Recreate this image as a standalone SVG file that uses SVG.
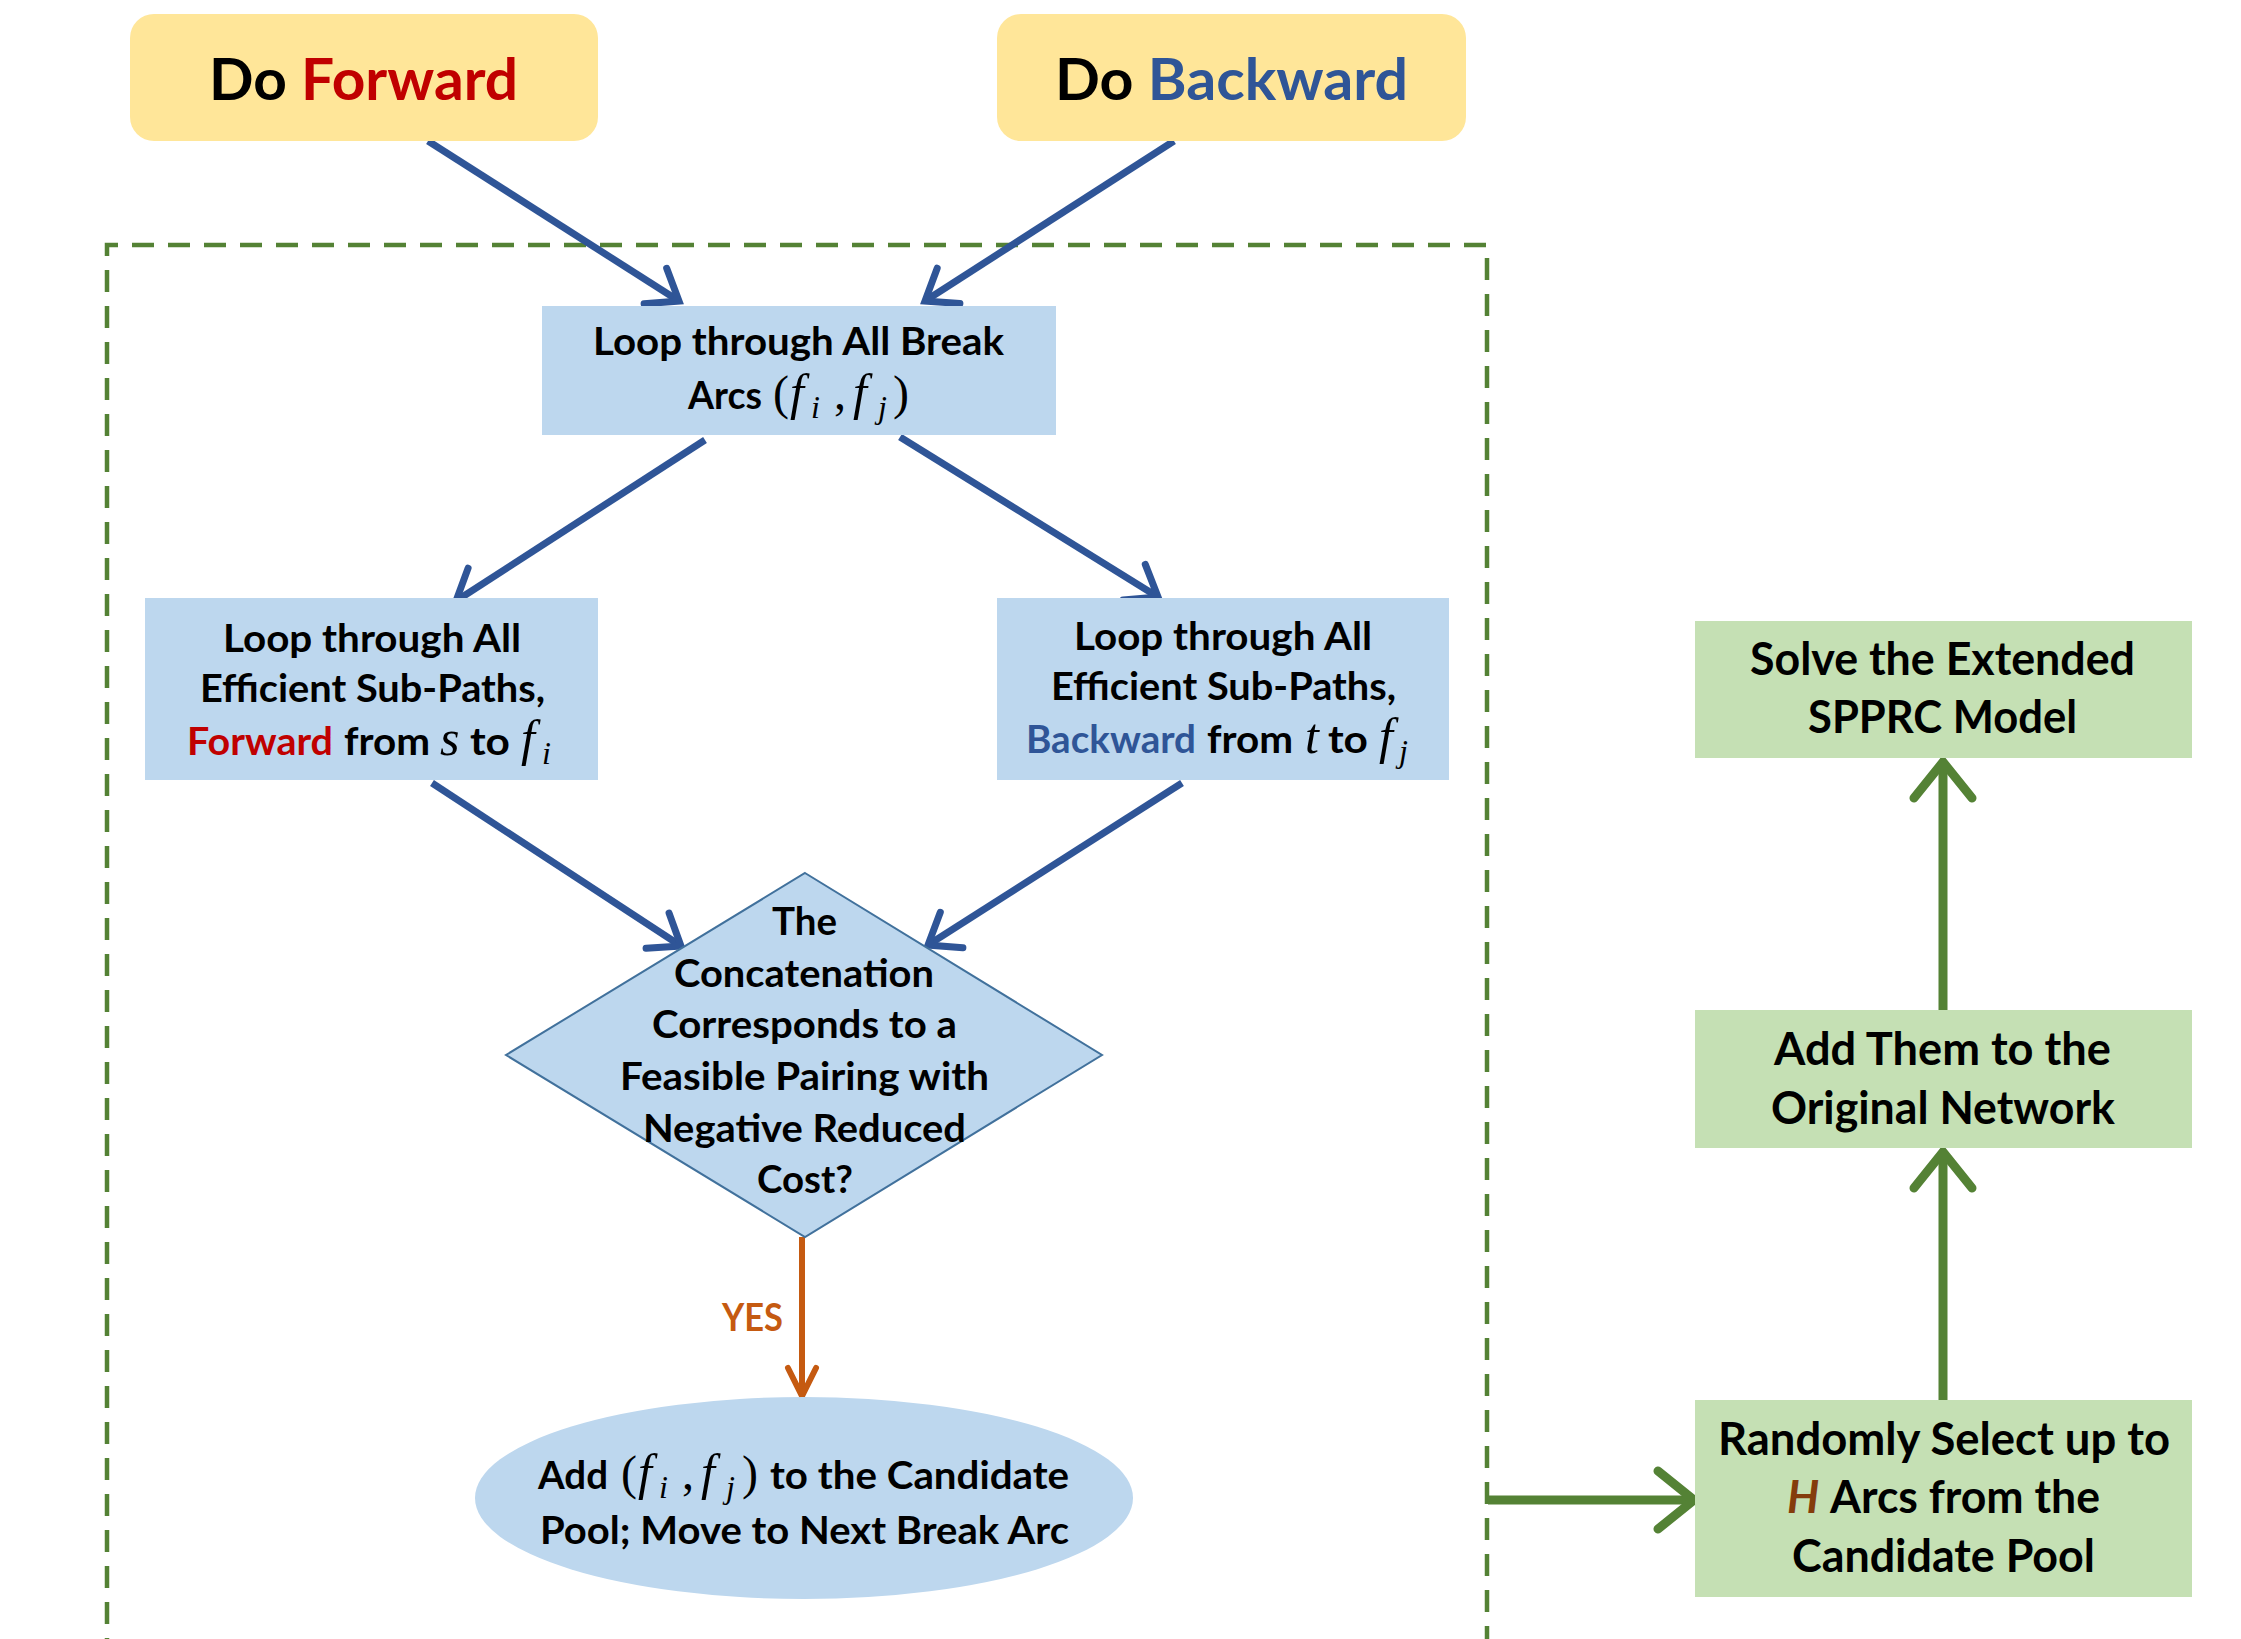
<svg xmlns="http://www.w3.org/2000/svg" width="2241" height="1639" viewBox="0 0 2241 1639">
<style>
.s{font-family:Lato,"Open Sans","Liberation Sans",sans-serif;font-weight:700;fill:#000}
.big{font-size:58px}
.t{font-size:39px}
.g{font-size:45px}
.m{font-family:"Liberation Serif","DejaVu Serif",serif;font-style:italic;font-size:50px;fill:#000}
.p{font-family:"Liberation Serif","DejaVu Serif",serif;font-size:48px;fill:#000}
.sub{font-size:32px}
.red{fill:#C00000}
.blu{fill:#2F5597}
.yellow{fill:#FFE699}
.lb{fill:#BDD7EE}
.lg{fill:#C5E0B4}
.ab{stroke:#2F5597;stroke-width:7;fill:none;marker-end:url(#mb)}
.ag{stroke:#548235;stroke-width:9;fill:none;marker-end:url(#mg)}
.ao{stroke:#C55A11;stroke-width:6;fill:none;marker-end:url(#mo)}
</style>
<defs>
<marker id="mb" markerUnits="userSpaceOnUse" orient="auto" refX="0" refY="0" markerWidth="80" markerHeight="80" viewBox="-40 -40 80 80" overflow="visible">
<path d="M-28,-21 L0,0 L-28,21" fill="none" stroke="#2F5597" stroke-width="7" stroke-linecap="round" stroke-linejoin="miter"/>
</marker>
<marker id="mg" markerUnits="userSpaceOnUse" orient="auto" refX="0" refY="0" markerWidth="100" markerHeight="100" viewBox="-50 -50 100 100" overflow="visible">
<path d="M-36,-29 L0,0 L-36,29" fill="none" stroke="#548235" stroke-width="9" stroke-linecap="round" stroke-linejoin="miter"/>
</marker>
<marker id="mo" markerUnits="userSpaceOnUse" orient="auto" refX="0" refY="0" markerWidth="80" markerHeight="80" viewBox="-40 -40 80 80" overflow="visible">
<path d="M-28,-14 L0,0 L-28,14" fill="none" stroke="#C55A11" stroke-width="6" stroke-linecap="round" stroke-linejoin="miter"/>
</marker>
</defs>
<rect width="2241" height="1639" fill="#fff"/>

<g id="boundary">
<path d="M107,1660 L107,245 L1487,245 L1487,1660" fill="none" stroke="#548235" stroke-width="4.5" stroke-dasharray="22,14"/>
</g>

<g id="connectors">
<line class="ab" x1="428" y1="141" x2="679" y2="301"/>
<line class="ab" x1="1174" y1="141" x2="925" y2="301"/>
<line class="ab" x1="705" y1="440" x2="456" y2="601"/>
<line class="ab" x1="900" y1="437" x2="1158" y2="597"/>
<line class="ab" x1="432" y1="783" x2="681" y2="946"/>
<line class="ab" x1="1182" y1="783" x2="928" y2="945"/>
<line class="ao" x1="802" y1="1237" x2="802" y2="1396"/>
<line class="ag" x1="1488" y1="1500" x2="1694" y2="1500"/>
<line class="ag" x1="1943" y1="1400" x2="1943" y2="1152"/>
<line class="ag" x1="1943" y1="1010" x2="1943" y2="762"/>
<text class="s t" x="722" y="1331" textLength="61" lengthAdjust="spacingAndGlyphs" style="fill:#C55A11">YES</text>
</g>

<g id="do-forward">
<rect class="yellow" x="130" y="14" width="468" height="127" rx="24"/>
<text class="s big" x="209" y="100" textLength="309" lengthAdjust="spacingAndGlyphs">Do <tspan class="red">Forward</tspan></text>
</g>

<g id="do-backward">
<rect class="yellow" x="997" y="14" width="469" height="127" rx="24"/>
<text class="s big" x="1055" y="100" textLength="353" lengthAdjust="spacingAndGlyphs">Do <tspan class="blu">Backward</tspan></text>
</g>

<g id="loop-break-arcs">
<rect class="lb" x="542" y="306" width="514" height="129"/>
<text class="s t" x="593" y="355" textLength="411" lengthAdjust="spacingAndGlyphs">Loop through All Break</text>
<text class="s t" x="688" y="409" textLength="74" lengthAdjust="spacingAndGlyphs">Arcs</text>
<text class="p" x="773" y="409">(</text>
<text class="m" x="790" y="409">f</text>
<text class="m sub" x="811" y="418">i</text>
<text class="p" x="834" y="409">,</text>
<text class="m" x="853" y="409">f</text>
<text class="m sub" x="878" y="418">j</text>
<text class="p" x="893" y="409">)</text>
</g>

<g id="loop-forward">
<rect class="lb" x="145" y="598" width="453" height="182"/>
<text class="s t" x="223" y="652" textLength="298" lengthAdjust="spacingAndGlyphs">Loop through All</text>
<text class="s t" x="200" y="702" textLength="345" lengthAdjust="spacingAndGlyphs">Efficient Sub-Paths,</text>
<text class="s t red" x="187" y="755" textLength="146" lengthAdjust="spacingAndGlyphs">Forward</text>
<text class="s t" x="344" y="755" textLength="86" lengthAdjust="spacingAndGlyphs">from</text>
<text class="m" x="440" y="755">s</text>
<text class="s t" x="470" y="755" textLength="40" lengthAdjust="spacingAndGlyphs">to</text>
<text class="m" x="521" y="755">f</text>
<text class="m sub" x="542" y="764">i</text>
</g>

<g id="loop-backward">
<rect class="lb" x="997" y="598" width="452" height="182"/>
<text class="s t" x="1074" y="650" textLength="298" lengthAdjust="spacingAndGlyphs">Loop through All</text>
<text class="s t" x="1051" y="700" textLength="345" lengthAdjust="spacingAndGlyphs">Efficient Sub-Paths,</text>
<text class="s t blu" x="1026" y="753" textLength="170" lengthAdjust="spacingAndGlyphs">Backward</text>
<text class="s t" x="1207" y="753" textLength="86" lengthAdjust="spacingAndGlyphs">from</text>
<text class="m" x="1305" y="753">t</text>
<text class="s t" x="1328" y="753" textLength="40" lengthAdjust="spacingAndGlyphs">to</text>
<text class="m" x="1379" y="753">f</text>
<text class="m sub" x="1399" y="762">j</text>
</g>

<g id="decision">
<polygon class="lb" points="805,873 1102,1055 805,1237 506,1055" stroke="#41719C" stroke-width="2"/>
<text class="s t" x="772" y="935" textLength="65" lengthAdjust="spacingAndGlyphs">The</text>
<text class="s t" x="674" y="987" textLength="260" lengthAdjust="spacingAndGlyphs">Concatenation</text>
<text class="s t" x="652" y="1038" textLength="305" lengthAdjust="spacingAndGlyphs">Corresponds to a</text>
<text class="s t" x="620" y="1090" textLength="369" lengthAdjust="spacingAndGlyphs">Feasible Pairing with</text>
<text class="s t" x="643" y="1142" textLength="323" lengthAdjust="spacingAndGlyphs">Negative Reduced</text>
<text class="s t" x="757" y="1193" textLength="96" lengthAdjust="spacingAndGlyphs">Cost?</text>
</g>

<g id="add-candidate">
<ellipse class="lb" cx="804" cy="1498" rx="329" ry="101"/>
<text class="s t" x="538" y="1489" textLength="70" lengthAdjust="spacingAndGlyphs">Add</text>
<text class="p" x="621" y="1489">(</text>
<text class="m" x="638" y="1489">f</text>
<text class="m sub" x="659" y="1498">i</text>
<text class="p" x="682" y="1489">,</text>
<text class="m" x="701" y="1489">f</text>
<text class="m sub" x="726" y="1498">j</text>
<text class="p" x="742" y="1489">)</text>
<text class="s t" x="770" y="1489" textLength="299" lengthAdjust="spacingAndGlyphs">to the Candidate</text>
<text class="s t" x="540" y="1544" textLength="529" lengthAdjust="spacingAndGlyphs">Pool; Move to Next Break Arc</text>
</g>

<g id="solve-sprc">
<rect class="lg" x="1695" y="621" width="497" height="137"/>
<text class="s g" x="1750" y="675" textLength="385" lengthAdjust="spacingAndGlyphs">Solve the Extended</text>
<text class="s g" x="1808" y="733" textLength="269" lengthAdjust="spacingAndGlyphs">SPPRC Model</text>
</g>

<g id="add-them">
<rect class="lg" x="1695" y="1010" width="497" height="138"/>
<text class="s g" x="1774" y="1065" textLength="337" lengthAdjust="spacingAndGlyphs">Add Them to the</text>
<text class="s g" x="1771" y="1124" textLength="344" lengthAdjust="spacingAndGlyphs">Original Network</text>
</g>

<g id="randomly-select">
<rect class="lg" x="1695" y="1400" width="497" height="197"/>
<text class="s g" x="1718" y="1455" textLength="452" lengthAdjust="spacingAndGlyphs">Randomly Select up to</text>
<text class="s g" x="1787" y="1513" style="fill:#843C0C;font-style:italic">H</text>
<text class="s g" x="1830" y="1513" textLength="270" lengthAdjust="spacingAndGlyphs">Arcs from the</text>
<text class="s g" x="1792" y="1572" textLength="303" lengthAdjust="spacingAndGlyphs">Candidate Pool</text>
</g>
</svg>
